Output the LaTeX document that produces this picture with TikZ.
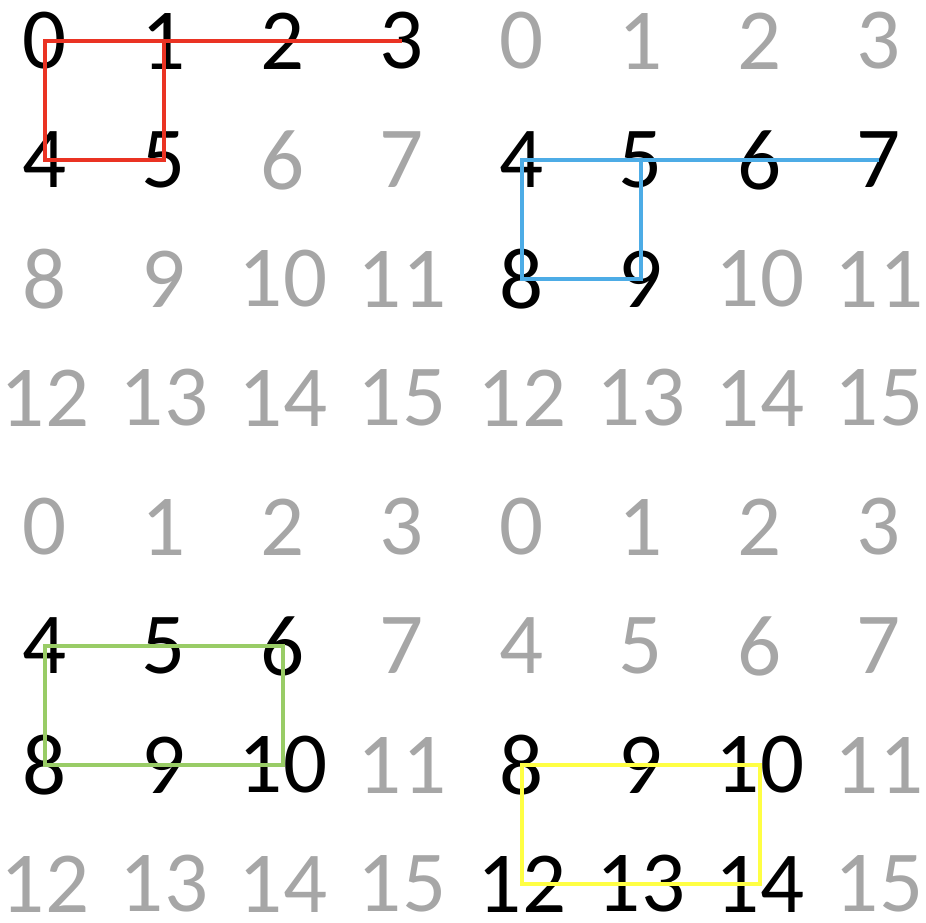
\documentclass[tikz,border=0pt]{standalone}
\usepackage{fontspec}
\setmainfont{Carlito}
\definecolor{numgray}{RGB}{166,166,166}
\definecolor{pathred}{RGB}{234,51,35}
\definecolor{pathblue}{RGB}{77,172,230}
\definecolor{pathgreen}{RGB}{153,204,102}
\definecolor{pathyellow}{RGB}{255,255,68}
\begin{document}
\begin{tikzpicture}[x=1pt,y=-1pt]
		\newcommand{\colsp}{119} % horizontal spacing of the numbers
		\newcommand{\rowsp}{119} % vertical spacing of the numbers

		% set the styles of the numbers and of the paths
		\tikzset{
			num/.style={
				inner sep=0pt,
				text=numgray,
				font=\fontsize{87}{90}\selectfont
				},
			on/.style={num, text=black},
			route/.style={line width=4pt, line join=miter}
		}

		\useasboundingbox (0,0) rectangle (926,922);

		% the four grids: name / origin / black numbers / grey numbers
		\foreach \g/\ox/\oy/\lit/\dim in {a/45/41/{0,...,5}/{6,...,15},
				b/522/41/{4,...,9}/{0,1,2,3,10,11,12,13,14,15},
				c/45/527/{4,5,6,8,9,10}/{0,1,2,3,7,11,12,13,14,15},
				d/522/527/{8,9,10,12,13,14}/{0,...,7,11,15}}{
			\foreach \n in \lit
				\node[on] (\g\n) at ({\ox+mod(\n,4)*\colsp},{\oy+int(\n/4)*\rowsp}) {\n};
			\foreach \n in \dim
				\node[num] (\g\n) at ({\ox+mod(\n,4)*\colsp},{\oy+int(\n/4)*\rowsp}) {\n};
		}

		% paths
		\draw[route, pathred] (a3.center) -- (a0.center) -- (a4.center) -- (a5.center) -- (a1.center);
		\draw[route, pathblue] (b7.center) -- (b4.center) -- (b8.center) -- (b9.center) -- (b5.center);
		\draw[route, pathgreen] (c4.center) -- (c6.center) -- (c10.center) -- (c8.center) -- cycle;
		\draw[route, pathyellow] (d8.center) -- (d10.center) -- (d14.center) -- (d12.center) -- cycle;

\end{tikzpicture}
\end{document}
